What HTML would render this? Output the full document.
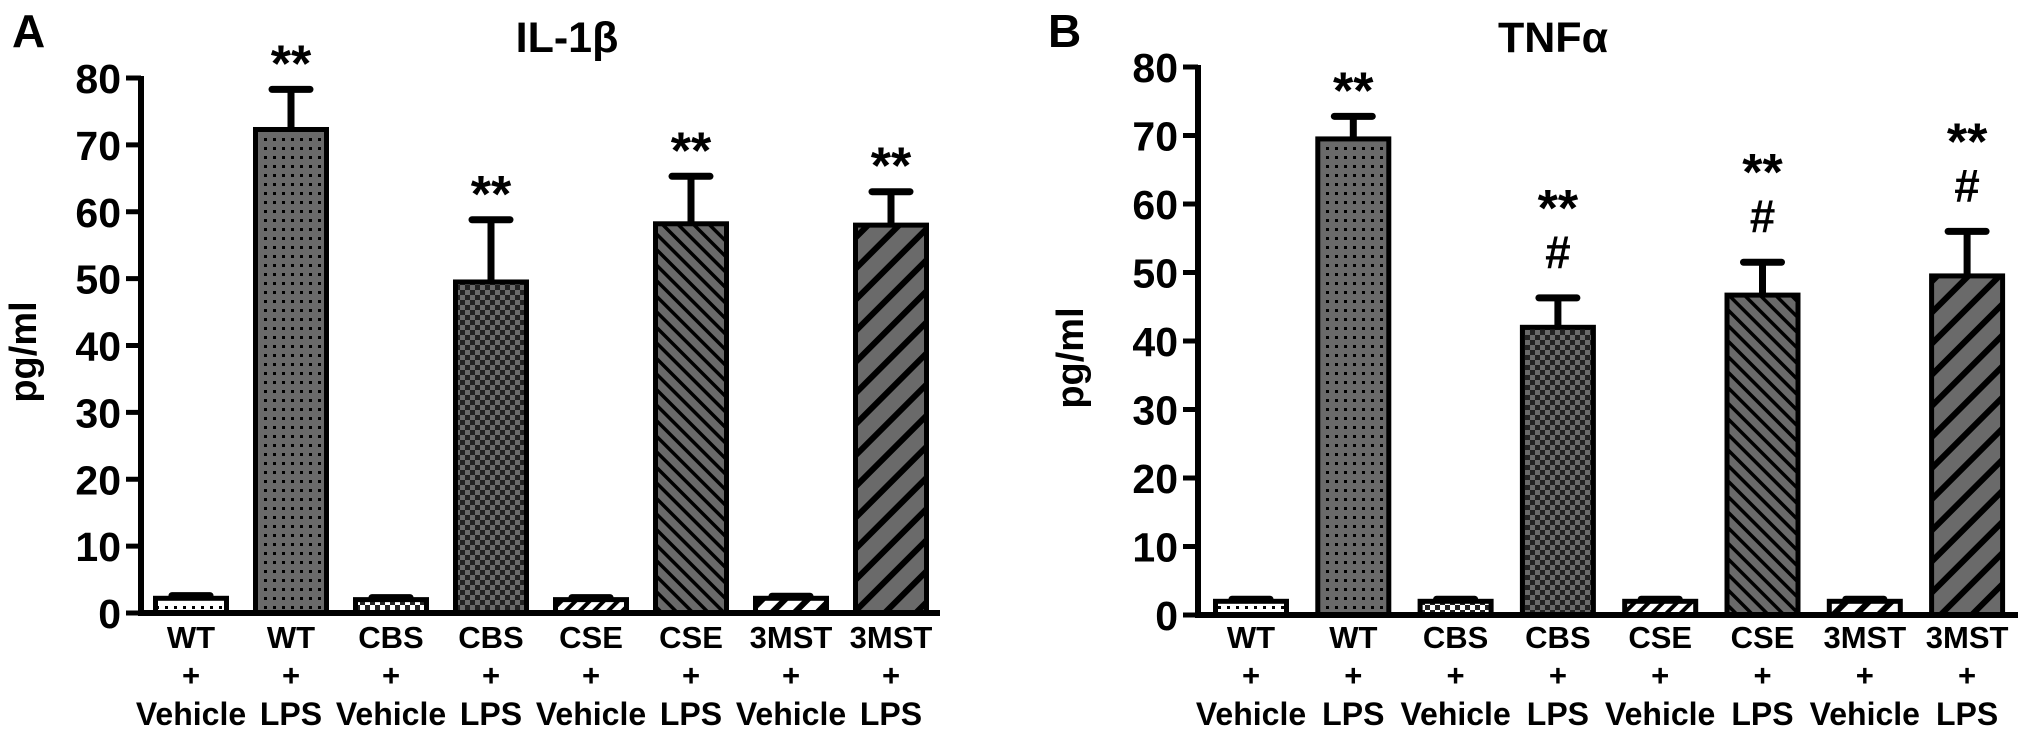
<!DOCTYPE html>
<html><head><meta charset="utf-8">
<style>
html,body{margin:0;padding:0;background:#fff;}
svg{display:block;font-family:"Liberation Sans",Arial,sans-serif;font-weight:bold;}
</style></head>
<body>
<svg id="fig" width="2031" height="739" viewBox="0 0 2031 739">
<defs>
<pattern id="pDotW" width="9" height="9" patternUnits="userSpaceOnUse"><rect width="9" height="9" fill="#fff"/><rect x="3" y="3" width="3" height="3" fill="#000"/></pattern>
<pattern id="pDotG" width="9" height="9" patternUnits="userSpaceOnUse"><rect width="9" height="9" fill="#6a6a6a"/><rect x="3" y="3" width="3" height="3" fill="#000"/></pattern>
<pattern id="pChkW" width="10" height="10" patternUnits="userSpaceOnUse"><rect width="10" height="10" fill="#fff"/><rect width="5" height="5" fill="#222"/><rect x="5" y="5" width="5" height="5" fill="#222"/></pattern>
<pattern id="pChkG" width="10" height="10" patternUnits="userSpaceOnUse"><rect width="10" height="10" fill="#6a6a6a"/><rect width="5" height="5" fill="#222"/><rect x="5" y="5" width="5" height="5" fill="#222"/></pattern>
<pattern id="pDiagW" width="10" height="10" patternUnits="userSpaceOnUse" patternTransform="rotate(45)"><rect width="10" height="10" fill="#fff"/><rect width="4" height="10" fill="#000"/></pattern>
<pattern id="pDiagG" width="11" height="11" patternUnits="userSpaceOnUse" patternTransform="rotate(-45)"><rect width="11" height="11" fill="#6a6a6a"/><rect width="3.5" height="11" fill="#000"/></pattern>
<pattern id="pWideW" width="16" height="16" patternUnits="userSpaceOnUse" patternTransform="rotate(45)"><rect width="16" height="16" fill="#fff"/><rect width="6" height="16" fill="#000"/></pattern>
<pattern id="pWideG" width="22" height="22" patternUnits="userSpaceOnUse" patternTransform="rotate(45)"><rect width="22" height="22" fill="#6a6a6a"/><rect width="6" height="22" fill="#000"/></pattern>
</defs>
<text x="12" y="47" font-size="46">A</text>
<text x="1048" y="47" font-size="46">B</text>
<text x="567" y="52" font-size="43" text-anchor="middle">IL-1β</text>
<text x="1553" y="52" font-size="43" text-anchor="middle">TNFα</text>
<g id="panelA"></g>
<g id="panelB"></g>
</svg>
<script>
const groups = ["WT","WT","CBS","CBS","CSE","CSE","3MST","3MST"];
const treatments = ["Vehicle","LPS","Vehicle","LPS","Vehicle","LPS","Vehicle","LPS"];
const il1bValues = [2.2, 72.3, 2.0, 49.5, 2.0, 58.2, 2.2, 58.0];
const il1bErrors = [0.4, 6.0, 0.3, 9.3, 0.3, 7.1, 0.3, 5.0];
const il1bMarks = [[],["**"],[],["**"],[],["**"],[],["**"]];
const tnfaValues = [2.0, 69.5, 2.0, 42.0, 2.0, 46.7, 2.0, 49.5];
const tnfaErrors = [0.3, 3.3, 0.3, 4.3, 0.3, 4.8, 0.3, 6.5];
const tnfaMarks = [[],["**"],[],["**","#"],[],["**","#"],[],["**","#"]];
const yTicks = [0,10,20,30,40,50,60,70,80];
const fills = ["pDotW","pDotG","pChkW","pChkG","pDiagW","pDiagG","pWideW","pWideG"];
const NS = "http://www.w3.org/2000/svg";
function mk(parent, tag, attrs, txt){
  const e = document.createElementNS(NS, tag);
  for (const k in attrs) e.setAttribute(k, attrs[k]);
  if (txt !== undefined) e.textContent = txt;
  parent.appendChild(e);
  return e;
}
function draw(g, cfg, values, errors, marks){
  const y = v => cfg.y0 - v * (cfg.y0 - cfg.y80) / 80;
  const x = i => cfg.c0 + i * cfg.step;
  const bw = 71;
  const yl = mk(g, "text", {x: cfg.ylx, y: cfg.yly, "font-size": 38, "text-anchor": "middle", transform: `rotate(-90 ${cfg.ylx} ${cfg.yly})`}, "pg/ml");
  
  
  yTicks.forEach(t => {
    const tl = mk(g, "line", {x1: cfg.ax - 15, x2: cfg.ax, y1: y(t), y2: y(t), stroke: "#000", "stroke-width": 5});
    
    
    const tt = mk(g, "text", {x: cfg.ax - 20, y: y(t) + 15, "font-size": 41, "text-anchor": "end"}, String(t));
    
    
  });
  values.forEach((v, i) => {
    const cx = x(i);
    const top = y(v + errors[i]);
    const eb = mk(g, "line", {x1: cx, x2: cx, y1: y(v), y2: top, stroke: "#000", "stroke-width": 7});
    
    
    const cap = mk(g, "line", {x1: cx - 19, x2: cx + 19, y1: top, y2: top, stroke: "#000", "stroke-width": 7, "stroke-linecap": "round"});
    
    
    const b = mk(g, "rect", {x: cx - bw/2, y: y(v), width: bw, height: y(0) - y(v), fill: `url(#${fills[i]})`, stroke: "#000", "stroke-width": 5});
    
    
    const m = marks[i];
    if (m.length === 1) {
      const s = mk(g, "text", {x: cx, y: top - 8, "font-size": 52, "text-anchor": "middle"}, m[0]);
      
      
    } else if (m.length === 2) {
      const s = mk(g, "text", {x: cx, y: top - 72, "font-size": 52, "text-anchor": "middle"}, m[0]);
      
      
      const h = mk(g, "text", {x: cx, y: top - 30, "font-size": 46, "text-anchor": "middle"}, m[1]);
      
      
    }
    const l1 = mk(g, "text", {x: cx, y: 648, "font-size": 31, "text-anchor": "middle"}, groups[i]);
    
    
    const l2 = mk(g, "text", {x: cx, y: 686, "font-size": 31, "text-anchor": "middle"}, "+");
    
    
    const l3 = mk(g, "text", {x: cx, y: 725, "font-size": 32, "text-anchor": "middle"}, treatments[i]);
    
    
  });
  const ya = mk(g, "line", {x1: cfg.ax, x2: cfg.ax, y1: y(80) - 2, y2: y(0) + 3, stroke: "#000", "stroke-width": 6});
  
  
  const xa = mk(g, "line", {x1: cfg.ax - 3, x2: cfg.xend, y1: y(0), y2: y(0), stroke: "#000", "stroke-width": 6});
  
  
}
draw(document.getElementById("panelA"), {ax: 141, y0: 613, y80: 78, c0: 191, step: 100, xend: 940, ylx: 36, yly: 352}, il1bValues, il1bErrors, il1bMarks);
draw(document.getElementById("panelB"), {ax: 1198, y0: 615, y80: 67, c0: 1251, step: 102.3, xend: 2018, ylx: 1083, yly: 358}, tnfaValues, tnfaErrors, tnfaMarks);
</script>
</body></html>
